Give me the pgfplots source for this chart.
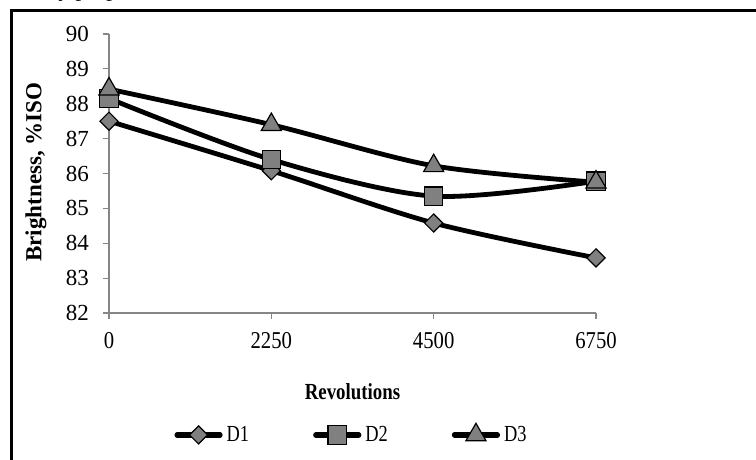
\documentclass[border=0pt]{standalone}
\usepackage{fontspec}
\setmainfont{Liberation Serif}
\usepackage{graphicx}
\usepackage{pgfplots}
\pgfplotsset{compat=1.18}
\definecolor{axgrey}{RGB}{134,134,134}
\definecolor{mkgrey}{RGB}{128,128,128}
\begin{document}
\begin{tikzpicture}[font=\fontsize{11.5}{13.5}\selectfont]
\useasboundingbox (0,0) rectangle (378pt,230pt);
\node[anchor=base west, inner sep=0pt] at (29pt,231.5pt) {y prop};
\draw[line width=1.5pt] (5.5pt,0pt) -- (5.5pt,224.5pt) -- (378pt,224.5pt);
\begin{axis}[
  at={(54.5pt,73.5pt)}, anchor=south west,
  scale only axis, width=243.5pt, height=139.5pt,
  xmin=0, xmax=6750, ymin=82, ymax=90,
  axis lines*=left,
  axis line style={axgrey, line width=0.6pt},
  tick style={axgrey, line width=0.6pt},
  tick align=outside, major tick length=3pt,
  xtick={0,2250,4500,6750},
  xticklabels={\scalebox{0.9}[1.05]{0},\scalebox{0.9}[1.05]{2250},\scalebox{0.9}[1.05]{4500},\scalebox{0.9}[1.05]{6750}},
  ytick={82,83,84,85,86,87,88,89,90},
  /pgf/number format/assume math mode=true,
  /pgf/number format/1000 sep={},
  yticklabel style={anchor=east, xshift=-3.5pt},
  xticklabel style={anchor=north, yshift=-3pt},
  xlabel={\scalebox{0.82}[1]{\textbf{Revolutions}}},
  ylabel={\textbf{Brightness, \%ISO}},
  every axis x label/.style={at={(axis description cs:0.5,-0.283)}, anchor=center},
  every axis y label/.style={at={(axis description cs:-0.15,0.505)}, anchor=center, rotate=90},
  legend style={at={(axis description cs:0.5,-0.437)}, anchor=center, draw=none, fill=none,
    legend columns=3, /tikz/every even column/.append style={column sep=30pt}},
  legend cell align=left,
  legend image code/.code={\draw[#1, line width=2.6pt, mark repeat=2, mark phase=2] plot coordinates {(0pt,0pt) (10.75pt,0pt) (21.5pt,0pt)};},
  every axis plot/.append style={black, line width=2.4pt, line cap=round, smooth, tension=0.5},
  clip=false,
]
\addplot[mark=square*, mark size=3.2pt, mark options={rotate=45, fill=mkgrey, draw=black, line width=0.6pt}]
  coordinates {(0,87.5) (2250,86.08) (4500,84.58) (6750,83.58)};
\addplot[mark=square*, mark size=4.6pt, mark options={fill=mkgrey, draw=black, line width=0.6pt}]
  coordinates {(0,88.15) (2250,86.4) (4500,85.35) (6750,85.78)};
\addplot[mark=triangle*, mark size=5.8pt, mark options={fill=mkgrey, draw=black, line width=0.6pt}]
  coordinates {(0,88.42) (2250,87.4) (4500,86.22) (6750,85.75)};
\legend{\scalebox{0.8}[1]{D1},\scalebox{0.8}[1]{D2},\scalebox{0.8}[1]{D3}}
\end{axis}
\end{tikzpicture}
\end{document}
